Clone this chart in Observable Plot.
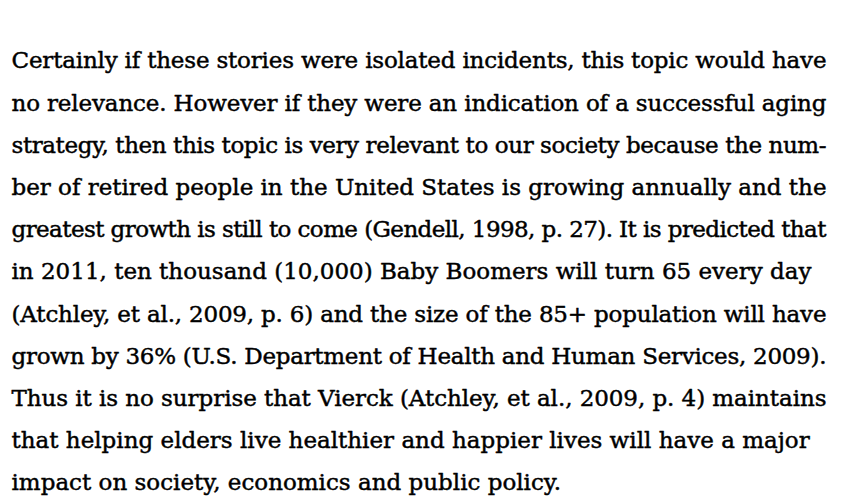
<!DOCTYPE html>
<html>
<head>
<meta charset="utf-8">
<script src="https://cdn.jsdelivr.net/npm/d3@7"></script>
<script src="https://cdn.jsdelivr.net/npm/@observablehq/plot@0.6"></script>
<style>
  html, body { margin: 0; padding: 0; background: #fff; }
  #chart svg { display: block; }
</style>
</head>
<body>
<div id="chart"></div>
<script>
const lines = [
  "Certainly if these stories were isolated incidents, this topic would have",
  "no relevance. However if they were an indication of a successful aging",
  "strategy, then this topic is very relevant to our society because the num-",
  "ber of retired people in the United States is growing annually and the",
  "greatest growth is still to come (Gendell, 1998, p. 27). It is predicted that",
  "in 2011, ten thousand (10,000) Baby Boomers will turn 65 every day",
  "(Atchley, et al., 2009, p. 6) and the size of the 85+ population will have",
  "grown by 36% (U.S. Department of Health and Human Services, 2009).",
  "Thus it is no surprise that Vierck (Atchley, et al., 2009, p. 4) maintains",
  "that helping elders live healthier and happier lives will have a major",
  "impact on society, economics and public policy."
];
const lineIndex = lines.map((d, i) => i);

const chart = Plot.plot({
  width: 845,
  height: 502,
  margin: 0,
  style: {background: "#fff", color: "#000"},
  x: {domain: [0, 1], range: [11, 834], axis: null},
  y: {domain: [0, lines.length - 1], range: [60.6, 482.6], axis: null},
  marks: [
    Plot.text(lineIndex, {
      x: () => 0,
      y: d => d,
      text: d => lines[d],
      textAnchor: "start",
      fontFamily: "DejaVu Serif",
      fontSize: 23,
      fill: "#000",
      stroke: "#000",
      strokeWidth: 0.45
    })
  ]
});
document.getElementById("chart").append(chart);

// keep long lines inside the text column (like the typeset paragraph)
const maxWidth = 815;
d3.select(chart).selectAll("text").each(function () {
  const w = this.getComputedTextLength();
  if (w > maxWidth) {
    this.setAttribute("textLength", maxWidth);
    this.setAttribute("lengthAdjust", "spacing");
  }
});
</script>
</body>
</html>
